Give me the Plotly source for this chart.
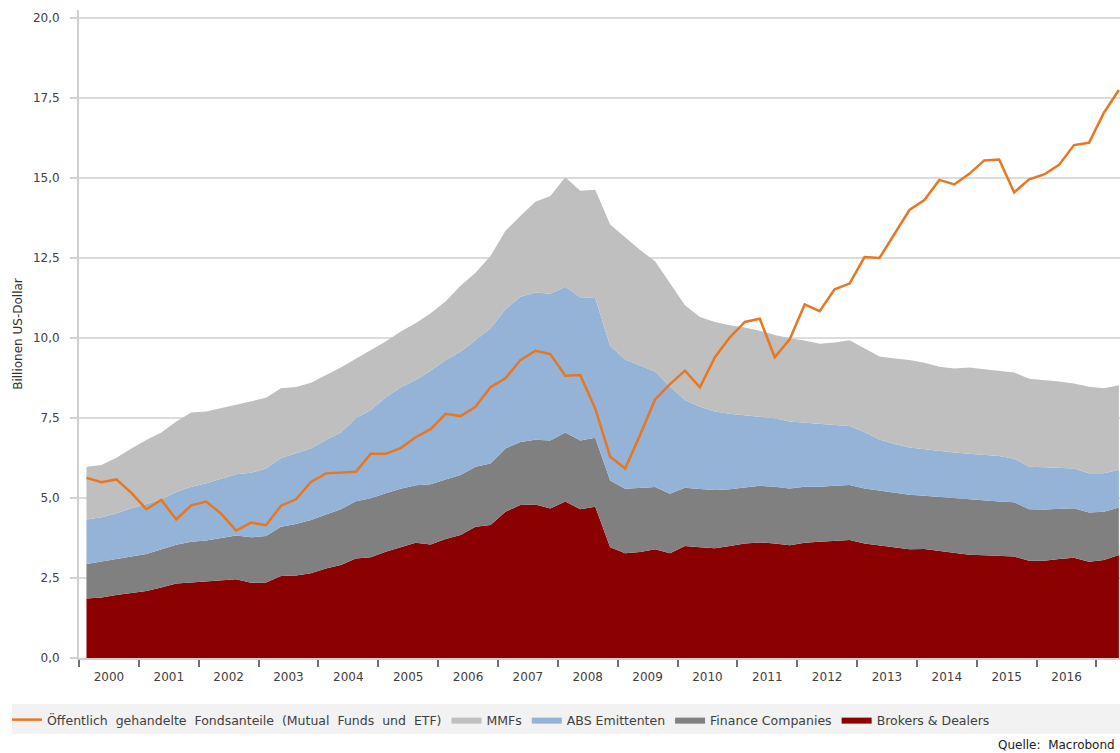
import plotly.graph_objects as go

# ---------------- data (quarterly, 2000 Q1 .. 2017 Q2), Billionen US-Dollar ----------------
years = list(range(2000, 2018))
quarters = [f"{y}-Q{q}" for y in years for q in (1, 2, 3, 4)][:70]

brokers_dealers = [
    1.86, 1.89, 1.97, 2.04, 2.09, 2.20, 2.33, 2.36, 2.39, 2.44, 2.46, 2.35, 2.36, 2.56, 2.58, 2.65,
    2.80, 2.91, 3.11, 3.15, 3.32, 3.46, 3.60, 3.55, 3.72, 3.84, 4.10, 4.16, 4.57, 4.78, 4.80, 4.67,
    4.89, 4.65, 4.73, 3.46, 3.27, 3.31, 3.40, 3.27, 3.50, 3.46, 3.43, 3.50, 3.58, 3.61, 3.58, 3.52,
    3.60, 3.63, 3.66, 3.69, 3.58, 3.52, 3.44, 3.40, 3.41, 3.35, 3.31, 3.23, 3.21, 3.19, 3.17, 3.04,
    3.04, 3.09, 3.13, 3.01, 3.06, 3.22,
]
finance_companies = [
    1.08, 1.12, 1.11, 1.13, 1.16, 1.20, 1.21, 1.27, 1.28, 1.31, 1.37, 1.42, 1.45, 1.54, 1.61, 1.66,
    1.68, 1.74, 1.79, 1.84, 1.83, 1.83, 1.80, 1.88, 1.86, 1.88, 1.88, 1.92, 1.98, 1.97, 2.02, 2.13,
    2.16, 2.15, 2.15, 2.09, 2.02, 2.00, 1.94, 1.86, 1.82, 1.82, 1.82, 1.77, 1.75, 1.77, 1.77, 1.78,
    1.75, 1.72, 1.72, 1.72, 1.72, 1.72, 1.72, 1.70, 1.66, 1.68, 1.68, 1.72, 1.71, 1.70, 1.70, 1.61,
    1.60, 1.58, 1.55, 1.54, 1.51, 1.48,
]
abs_emittenten = [
    1.39, 1.39, 1.44, 1.51, 1.56, 1.56, 1.65, 1.72, 1.79, 1.86, 1.91, 2.02, 2.11, 2.15, 2.20, 2.24,
    2.33, 2.40, 2.59, 2.76, 3.00, 3.17, 3.29, 3.55, 3.73, 3.85, 3.96, 4.22, 4.35, 4.54, 4.60, 4.58,
    4.55, 4.47, 4.37, 4.20, 4.04, 3.84, 3.61, 3.35, 2.74, 2.57, 2.45, 2.36, 2.26, 2.16, 2.14, 2.09,
    2.00, 1.95, 1.90, 1.84, 1.76, 1.59, 1.53, 1.48, 1.45, 1.45, 1.43, 1.43, 1.43, 1.42, 1.36, 1.33,
    1.32, 1.28, 1.24, 1.22, 1.20, 1.18,
]
mmfs = [
    1.65, 1.63, 1.74, 1.87, 2.00, 2.09, 2.20, 2.32, 2.24, 2.20, 2.18, 2.25, 2.21, 2.18, 2.08, 2.05,
    2.03, 2.03, 1.86, 1.88, 1.74, 1.74, 1.77, 1.79, 1.83, 2.06, 2.10, 2.26, 2.45, 2.52, 2.84, 3.06,
    3.42, 3.33, 3.38, 3.80, 3.82, 3.60, 3.45, 3.23, 2.96, 2.81, 2.80, 2.77, 2.74, 2.69, 2.60, 2.60,
    2.57, 2.52, 2.58, 2.68, 2.62, 2.59, 2.67, 2.73, 2.71, 2.62, 2.63, 2.70, 2.67, 2.65, 2.69, 2.75,
    2.73, 2.69, 2.66, 2.71, 2.66, 2.64,
]
fondsanteile = [
    5.63, 5.49, 5.58, 5.16, 4.65, 4.94, 4.33, 4.77, 4.89, 4.51, 3.98, 4.23, 4.15, 4.76, 4.96, 5.50,
    5.77, 5.80, 5.82, 6.38, 6.38, 6.56, 6.90, 7.15, 7.63, 7.56, 7.85, 8.46, 8.74, 9.31, 9.60, 9.50,
    8.82, 8.84, 7.80, 6.29, 5.92, 6.97, 8.08, 8.56, 8.98, 8.46, 9.40, 10.02, 10.50, 10.60, 9.40, 9.96,
    11.05, 10.84, 11.52, 11.70, 12.53, 12.50, 13.25, 14.00, 14.31, 14.94, 14.80, 15.13, 15.55, 15.58,
    14.55, 14.96, 15.11, 15.41, 16.03, 16.10, 17.04, 17.75,
]

year_labels = [str(y) for y in range(2000, 2017)]
y_ticks = [0, 2.5, 5, 7.5, 10, 12.5, 15, 17.5, 20]

# quarter label -> decimal year at mid-quarter
def qpos(label):
    y, q = label.split("-Q")
    return int(y) + (int(q) - 0.5) / 4

x = [qpos(q) for q in quarters]

FONT = "DejaVu Sans"
fig = go.Figure()

area_specs = [
    ("Brokers & Dealers", brokers_dealers, "#8b0000", 5),
    ("Finance Companies", finance_companies, "#808080", 4),
    ("ABS Emittenten", abs_emittenten, "#95b3d7", 3),
    ("MMFs", mmfs, "#bfbfbf", 2),
]
for name, vals, col, rank in area_specs:
    fig.add_trace(go.Scatter(
        x=x, y=vals, name=name, mode="lines", stackgroup="one",
        line=dict(width=0, color=col), fillcolor=col, legendrank=rank,
        hoverinfo="skip",
    ))

fig.add_trace(go.Scatter(
    x=x, y=fondsanteile, mode="lines",
    name="Öffentlich  gehandelte  Fondsanteile  (Mutual  Funds  und  ETF)".replace("  ", "\u00a0 "),
    line=dict(color="#e87722", width=2.5), legendrank=1,
))

W, H = 1120, 753
ML, MR, MT, MB = 79, 0, 10, 95
pw, ph = W - ML - MR, H - MT - MB

def px_x(s):
    return (s - ML) / pw

def px_y(s):
    return (H - MB - s) / ph

fig.update_layout(
    width=W, height=H,
    margin=dict(l=ML, r=MR, t=MT, b=MB, pad=0),
    paper_bgcolor="white", plot_bgcolor="white",
    separators=",.",
    font=dict(family=FONT, size=11, color="#404040"),
    showlegend=True,
    legend=dict(
        orientation="h", x=px_x(7), y=px_y(705), xanchor="left", yanchor="top",
        bgcolor="rgba(0,0,0,0)", font=dict(family=FONT, size=12.5, color="#404040"),
        traceorder="normal", itemwidth=30,
    ),
    xaxis=dict(
        range=[2000, 2000 + pw / 59.85], showgrid=False, zeroline=False,
        showline=True, linecolor="#d0d0d0", linewidth=2,
        tickmode="array", tickvals=[int(y) + 0.5 for y in year_labels], ticktext=year_labels,
        ticks="", ticklabelstandoff=7,
        tickfont=dict(family=FONT, size=12, color="#404040"),
        minor=dict(tickmode="array", tickvals=[int(y) for y in year_labels] + [2017],
                   ticks="outside", ticklen=7, tickwidth=2, tickcolor="#707070", showgrid=False),
    ),
    yaxis=dict(
        range=[0, 20.25], tickmode="array", tickvals=y_ticks, tickformat=".1f",
        showgrid=True, gridcolor="#dcdcdc", gridwidth=2, zeroline=False,
        showline=True, linecolor="#d0d0d0", linewidth=2,
        ticks="outside", ticklen=7, tickwidth=2, tickcolor="#d0d0d0", ticklabelstandoff=8,
        tickfont=dict(family=FONT, size=12, color="#404040"),
        title=dict(text="Billionen US-Dollar", font=dict(family=FONT, size=12, color="#303030"), standoff=8),
    ),
    shapes=[dict(type="rect", xref="paper", yref="paper",
                 x0=px_x(12), x1=1.0, y0=px_y(734), y1=px_y(704),
                 fillcolor="#f2f2f2", line=dict(width=0), layer="below")],
    annotations=[dict(text="Quelle:\u00a0 Macrobond", xref="paper", yref="paper",
                      x=px_x(1117), y=px_y(745), xanchor="right", yanchor="middle",
                      showarrow=False, font=dict(family=FONT, size=12, color="#202020"))],
)

fig.write_html(
    "out.html",
    config={"displayModeBar": False},
    post_script="document.body.style.margin='0';document.body.style.overflow='hidden';",
)
